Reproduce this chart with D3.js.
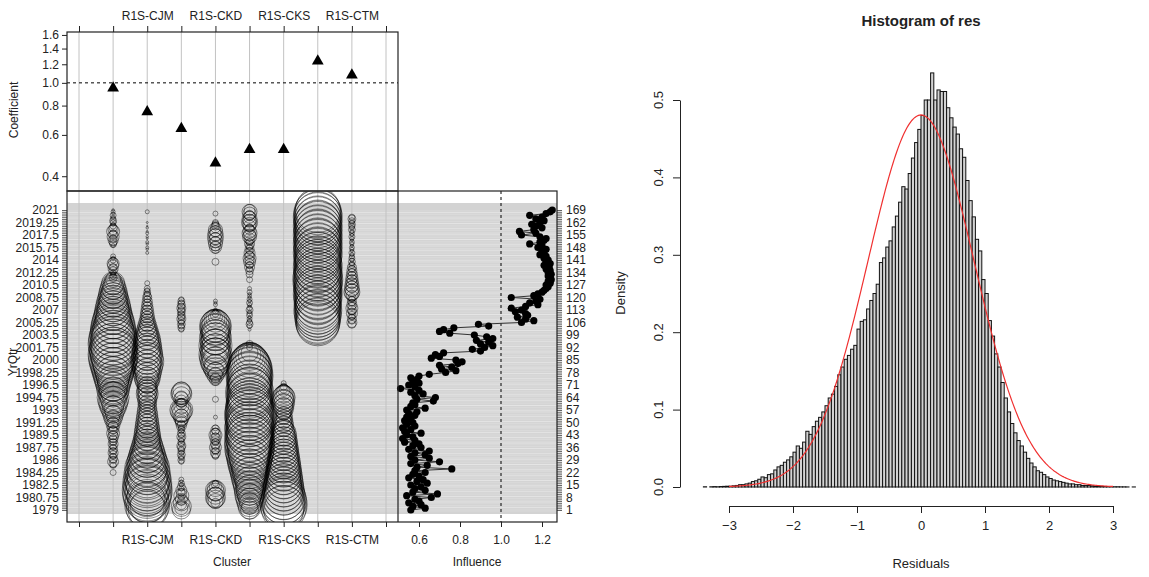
<!DOCTYPE html>
<html><head><meta charset="utf-8">
<script src="https://cdn.jsdelivr.net/npm/d3@7"></script>
<style>
body{margin:0;background:#fff;}
svg text{font-family:"Liberation Sans", Arial, Helvetica, sans-serif;}
</style></head><body>
<svg id="c" width="1149" height="577"></svg>
<script>
// ---------- DATA ----------
const clusterTickLabels = ["", "", "R1S-CJM", "", "R1S-CKD", "", "R1S-CKS", "", "R1S-CTM", ""];
const clusterIndex = [1, 2, 3, 4, 5, 6, 7, 8];
const coefficients = [0.96, 0.76, 0.645, 0.46, 0.525, 0.525, 1.25, 1.09];
const coefTicks = [0.4, 0.6, 0.8, 1.0, 1.2, 1.4, 1.6];
const rowTickValues = [169,162,155,148,141,134,127,120,113,106,99,92,85,78,71,64,57,50,43,36,29,22,15,8,1];
const yrQtrTickLabels = ["2021","2019.25","2017.5","2015.75","2014","2012.25","2010.5","2008.75","2007","2005.25","2003.5","2001.75","2000","1998.25","1996.5","1994.75","1993","1991.25","1989.5","1987.75","1986","1984.25","1982.5","1980.75","1979"];
const influenceTicks = [0.6, 0.8, 1.0, 1.2];
// influence by row (row 1 = 1979 ... row 169 = 2021)
const influence = [
0.56,0.63,0.57,0.61,0.55,0.60,0.58,0.66,0.54,0.69,
0.57,0.63,0.58,0.61,0.56,0.64,0.59,0.62,0.55,0.60,
0.57,0.63,0.58,0.76,0.59,0.64,0.56,0.70,0.58,0.65,
0.56,0.63,0.58,0.65,0.55,0.61,0.57,0.60,0.53,0.58,
0.52,0.57,0.54,0.61,0.53,0.56,0.52,0.58,0.54,0.57,
0.53,0.56,0.54,0.58,0.55,0.59,0.54,0.63,0.56,0.58,
0.57,0.67,0.59,0.68,0.58,0.62,0.56,0.60,0.51,0.58,
0.55,0.60,0.57,0.59,0.56,0.60,0.65,0.73,0.78,0.71,
0.76,0.70,0.79,0.81,0.78,0.66,0.70,0.68,0.72,0.90,
0.86,0.92,0.96,0.90,0.94,0.88,0.96,0.93,0.87,0.75,
0.70,0.72,0.77,0.94,0.89,1.10,1.16,1.12,1.08,1.13,
1.12,1.07,1.10,1.05,1.12,1.18,1.14,1.17,1.19,1.05,
1.16,1.18,1.20,1.21,1.22,1.23,1.22,1.24,1.23,1.245,
1.24,1.23,1.245,1.23,1.24,1.22,1.235,1.21,1.24,1.22,
1.23,1.21,1.22,1.19,1.21,1.20,1.22,1.18,1.20,1.14,
1.19,1.21,1.22,1.19,1.10,1.17,1.09,1.16,1.20,1.17,
1.15,1.19,1.21,1.17,1.20,1.14,1.22,1.24,1.25];
// bubble sizes per cluster by row (row 1 ... row 169)
const sizeC1 = [
0,0,0,0,0,0,0,0,0,0, 0,0,0,0,0,0,0,0,0,0,
0,1.2,0,0,0,1.2,1.6,2.2,1.4,1.8, 1.2,1.6,2.0,1.4,1.8,1.2,1.6,2.0,1.4,1.8,
1.6,2.2,1.8,2.6,2.0,1.6,2.4,2.0,2.8,2.2, 3.0,3.6,2.6,4.0,3.2,4.4,3.6,5.0,4.2,5.6,
4.6,6.0,5.2,6.4,5.6,4.8,6.0,5.4,6.6,5.8, 6.4,7.0,6.2,7.4,6.6,7.8,7.0,8.2,7.4,8.6,
7.8,9.0,8.2,9.4,8.6,9.8,9.0,10.0,9.2,9.6, 8.8,9.6,9.0,10.0,9.2,9.8,8.8,9.4,8.6,9.2,
8.4,9.0,8.0,8.8,7.6,8.4,7.2,8.0,7.0,7.6, 6.8,7.4,6.4,7.0,6.2,6.8,5.8,6.4,5.6,6.0,
5.2,5.8,4.8,5.4,4.4,5.0,4.0,4.6,3.6,3.0, 1.6,1.2,0.9,1.1,1.6,2.0,1.4,2.2,2.4,1.8,
1.2,0.8,1.0,0,0,0,0,0,0.8,1.4, 1.6,2.0,1.4,2.4,1.8,1.4,2.6,2.0,1.6,1.2,
0.8,1.2,1.4,1.0,0.8,1.2,0.6,0.8,0.5];
const sizeC2 = [
7.6,8.4,6.8,9.0,7.8,8.6,7.0,9.4,8.0,9.8, 8.6,10.0,9.0,9.6,8.4,9.8,8.8,9.2,8.0,9.4,
8.2,8.8,7.6,9.0,8.0,8.4,7.4,8.0,7.0,7.6, 6.6,7.2,6.2,6.8,5.8,6.4,5.4,6.0,5.2,5.6,
5.0,5.4,4.6,5.2,4.4,5.0,4.2,4.8,4.0,4.6, 3.8,4.4,3.6,4.2,3.4,4.0,3.2,3.8,3.0,3.6,
3.2,3.8,3.4,4.0,3.6,4.4,3.8,4.2,3.6,4.0, 3.4,4.0,4.6,5.0,4.4,5.4,4.8,5.6,5.0,6.0,
5.4,6.2,5.6,6.6,5.8,6.4,5.6,6.2,5.2,6.0, 5.4,5.8,5.0,5.6,4.8,5.4,4.6,5.0,4.2,4.6,
3.8,4.2,3.4,3.8,3.0,3.4,2.6,3.0,2.4,2.8, 2.2,2.6,2.0,2.4,1.8,2.2,1.6,2.0,1.4,1.8,
1.6,1.2,1.4,1.0,1.2,0,0,1.0,0,0, 0,0,0,0,0,0,0,0,0,0,
0,0,0,0,0.6,0,0.5,0.6,0,0.5, 0.6,0,0.4,0.5,0,0.6,0.4,0,0.5,0.3,
0,0.4,0,0,0,0,0,0.8,0];
const sizeC3 = [
3.6,2.6,4.0,2.0,3.2,1.6,2.4,1.2,3.0,2.0, 1.4,2.2,1.0,1.6,0.8,1.2,0.6,1.0,0,0,
0,0,0,0,0,0,0,1.0,1.4,1.0, 1.2,1.6,1.0,1.4,1.2,1.6,1.8,1.2,1.4,1.0,
1.4,1.8,1.2,1.6,1.0,1.4,1.2,2.0,1.6,2.4, 2.4,2.8,3.2,2.6,3.6,4.2,4.6,3.8,3.0,2.2,
1.8,2.4,3.0,2.6,3.6,4.2,4.0,3.4,0,0, 0,0,0,0,0,0,0,0,0,0,
0,0,0,0,0,0,0,0,0,0, 0,0,0,0,0,0,0,0,0,0,
0,1.0,1.4,1.2,1.6,1.2,1.4,1.8,1.4,1.6, 1.2,1.6,1.4,1.8,1.4,1.6,1.2,1.4,1.0,0,
0,0,0,0,0,0,0,0,0,0, 0,0,0,0,0,0,0,0,0,0,
0,0,0,0,0,0,0,0,0,0, 0,0,0,0,0,0,0,0,0,0,
0,0,0,0,0,0,0,0,0];
const sizeC4 = [
0,0,0,0,1.8,3.0,3.6,4.0,3.4,2.8, 3.6,4.0,3.2,2.4,1.6,1.2,0,0,0,0,
0,0,0,0,0,0,0,0,0,0, 1.2,1.6,2.0,1.4,1.8,2.4,1.6,2.0,1.4,1.8,
2.2,1.6,2.6,2.0,1.4,1.8,1.2,0,0,0, 0,0,0.8,0,0,0,0,0,0,0,
0,0,1.2,0,0,0,0,0,0,0, 0,0,1.6,2.4,2.0,3.2,2.8,4.0,3.4,4.6,
5.0,4.4,5.6,6.0,5.2,6.4,5.8,6.6,6.0,5.4, 6.2,5.6,6.6,6.0,5.2,5.8,6.4,5.6,6.2,5.4,
5.6,6.2,5.8,6.4,6.0,5.4,4.6,3.8,2.8,2.0, 1.4,1.0,0.8,0,0,0.8,0.6,0.8,0,0,
0,0,0,0,0,0,0,0,0,0, 0,0,0,0,0,0,0,0,0,1.4,
0,0,0,0,0,0,1.6,2.4,2.0,2.8, 2.2,3.0,2.4,3.2,2.6,3.0,2.2,2.8,2.0,1.6,
1.4,1.2,0,0,0,0,1.0,0,0];
const sizeC5 = [
3.6,4.4,3.2,4.8,4.0,5.2,4.4,5.6,4.8,6.0, 5.2,6.0,5.4,6.4,5.6,6.6,5.8,7.0,6.2,7.4,
6.6,7.6,7.0,8.0,7.2,8.4,7.6,8.8,8.0,9.0, 8.4,9.4,8.6,9.6,8.8,10.0,9.0,9.8,9.2,10.0,
9.4,9.8,9.0,9.6,9.2,10.0,9.4,9.8,9.0,9.6, 9.2,9.8,9.4,10.0,9.6,9.8,9.2,9.6,9.0,9.4,
8.8,9.2,8.6,9.4,9.0,8.8,9.6,9.2,8.6,9.0, 8.4,9.0,8.6,9.2,8.8,9.4,9.0,8.6,9.2,8.8,
8.8,8.4,8.0,7.6,7.0,6.4,5.6,4.6,3.4,0, 0,1.2,0,1.4,0,0,0,0,0,0,
0,0.6,0,1.0,1.4,1.2,0.8,1.0,0.6,1.2, 1.0,0.8,1.4,1.0,0.6,0.8,1.2,0.7,1.0,0.6,
0.8,0.6,1.0,0,0.8,0,0,0,0,1.2, 0,0,1.4,0,1.6,1.2,2.0,1.4,1.8,2.4,
1.8,2.6,2.0,1.6,2.2,1.4,1.8,1.2,1.6,2.0, 1.4,1.8,2.2,2.8,2.4,3.0,2.6,2.0,1.6,2.4,
2.8,3.2,2.6,3.0,2.4,2.0,2.6,3.0,2.2];
const sizeC6 = [
8.0,9.0,8.4,9.4,8.6,9.2,8.2,8.8,7.8,8.4, 7.6,8.2,7.4,8.0,7.2,7.8,7.0,7.6,6.8,7.4,
6.8,7.2,6.6,7.0,6.4,6.8,6.2,6.6,6.0,6.4, 5.8,6.2,5.6,6.0,5.4,5.8,5.2,5.6,5.0,5.4,
4.8,5.2,4.6,5.0,4.4,4.2,3.6,4.0,3.4,3.8, 3.2,3.6,3.0,3.4,2.8,3.2,3.6,4.0,3.6,4.2,
3.8,4.4,4.0,4.6,4.2,3.6,3.0,2.4,1.8,1.4, 0,1.0,0,0,0,0,0,0,0,0,
0,0,0,0,0,0,0,0,0,0, 0,0,0,0,0,0,0,0,0,0,
0,0,0,0,0,0,0,0,0,0, 0,0,0,0,0,0,0,0,0,0,
0,0,0,0,0,0,0,0,0,0, 0,0,0,0,0,0,0,0,0,0,
0,0,0,0,0,0,0,0,0,0, 0,0,0,0,0,0,0,0,0,0,
0,0,0,0,0,0,0,0,0];
const sizeC7 = [
0,0,0,0,0,0,0,0,0,0, 0,0,0,0,0,0,0,0,0,0,
0,0,0,0,0,0,0,0,0,0, 0,0,0,0,0,0,0,0,0,0,
0,0,0,0,0,0,0,0,0,0, 0,0,0,0,0,0,0,0,0,0,
0,0,0,0,0,0,0,0,0,0, 0,0,0,0,0,0,0,0,0,0,
0,0,0,0,0,0,0,0,0,0, 0,0,0,0,0,0,0,0,0,0,
0,0,0,0,8.6,8.8,9.0,8.6,9.2,8.8, 9.4,9.0,9.6,9.2,9.0,9.4,8.8,9.2,9.6,9.0,
9.4,9.8,9.2,9.6,9.0,9.4,9.8,9.2,9.6,10.0, 9.4,9.8,9.2,9.6,9.0,9.4,9.8,9.2,9.6,9.0,
9.4,9.0,9.6,9.2,9.8,9.4,9.0,9.6,9.2,9.8, 9.4,9.0,9.6,9.2,9.8,9.4,9.0,9.6,9.2,9.8,
9.4,9.0,9.6,9.2,9.8,9.4,9.6,9.2,9.0];
const sizeC8 = [
0,0,0,0,0,0,0,0,0,0, 0,0,0,0,0,0,0,0,0,0,
0,0,0,0,0,0,0,0,0,0, 0,0,0,0,0,0,0,0,0,0,
0,0,0,0,0,0,0,0,0,0, 0,0,0,0,0,0,0,0,0,0,
0,0,0,0,0,0,0,0,0,0, 0,0,0,0,0,0,0,0,0,0,
0,0,0,0,0,0,0,0,0,0, 0,0,0,0,0,0,0,0,0,0,
0,0,0,0,1.6,2.0,1.4,1.8,1.2,1.6, 2.2,1.4,1.8,2.4,1.6,2.0,1.4,1.8,1.2,1.6,
2.2,2.8,3.2,2.6,3.0,2.4,2.8,2.2,2.6,2.0, 2.4,1.8,2.2,1.6,2.0,1.4,1.8,1.2,1.0,1.4,
0.8,1.2,1.0,0.8,1.2,0.6,0.8,1.0,0.6,0.8, 1.0,0.6,0.8,1.2,0.7,1.0,0.8,1.4,1.0,1.2,
1.4,1.0,1.2,1.6,1.2,0,0,0,0];
const clusterSizes = [sizeC1, sizeC2, sizeC3, sizeC4, sizeC5, sizeC6, sizeC7, sizeC8];

// histogram of residuals (density, bins of 0.05 starting at -3.5)
const histStart = -3.5, histBinWidth = 0.05;
const histDensity = [
0,0,0.0003,0,0.0003,0.0005,0.0003,0.0006,0.0008,0.001,
0.001,0.0015,0.002,0.003,0.003,0.004,0.005,0.007,0.008,0.010,
0.013,0.012,0.016,0.017,0.022,0.026,0.028,0.032,0.035,0.039,
0.045,0.053,0.050,0.058,0.072,0.068,0.078,0.085,0.090,0.097,
0.105,0.115,0.120,0.130,0.145,0.155,0.165,0.170,0.178,0.183,
0.204,0.214,0.216,0.230,0.241,0.250,0.262,0.290,0.296,0.310,
0.318,0.336,0.350,0.368,0.388,0.385,0.405,0.425,0.445,0.462,
0.480,0.500,0.500,0.535,0.500,0.513,0.511,0.511,0.490,0.477,
0.465,0.456,0.437,0.426,0.396,0.370,0.349,0.320,0.305,0.268,
0.250,0.215,0.195,0.172,0.155,0.135,0.115,0.097,0.082,0.070,
0.060,0.053,0.045,0.037,0.031,0.026,0.021,0.019,0.016,0.013,
0.011,0.009,0.008,0.007,0.006,0.005,0.004,0.004,0.003,0.003,
0.002,0.002,0.002,0.0015,0.001,0.001,0.0008,0.0006,0.0005,0.0004,
0.0003,0.0003,0.0002,0.0002,0.0001,0,0.0001,0,0,0,0,0];
const resMean = 0, resSd = 0.83;
const histXTicks = [-3, -2, -1, 0, 1, 2, 3];
const histYTicks = [0, 0.1, 0.2, 0.3, 0.4, 0.5];

// ---------- DRAW ----------
const svg = d3.select("#c");
const L = 67, R1 = 398, R2 = 557, T = 32, M = 191, B = 522;
const xC = d3.scaleLinear().domain([0, 9]).range([79, 386]);
const yCoef = d3.scaleLog().domain([0.346, 1.647]).range([M, T]);
const yRow = d3.scaleLinear().domain([1, 169]).range([510, 210]);
const xInf = d3.scaleLinear().domain([0.6, 1.0]).range([419, 501]);
const rB = d3.scaleLinear().domain([0, 10]).range([0, 25]);
const rows = d3.range(1, 170);

// gray row background
svg.append("rect").attr("x", L).attr("y", 203).attr("width", R2 - L).attr("height", 311).attr("fill", "#d3d3d3");
const gRowLines = svg.append("g");
rows.forEach(i => {
  gRowLines.append("line").attr("x1", L).attr("x2", R2)
    .attr("y1", yRow(i) + 0.9).attr("y2", yRow(i) + 0.9)
    .attr("stroke", "#fff").attr("stroke-opacity", (i % 3 === 0) ? 0.7 : 0.3).attr("stroke-width", 0.6);
});

// vertical reference lines
d3.range(10).forEach(k => {
  svg.append("line").attr("x1", xC(k)).attr("x2", xC(k)).attr("y1", T).attr("y2", B)
    .attr("stroke", "#c2c2c2").attr("stroke-width", 1);
});

// bubbles
svg.append("clipPath").attr("id", "clipB").append("rect").attr("x", L).attr("y", M).attr("width", R1 - L).attr("height", B - M);
const gB = svg.append("g").attr("clip-path", "url(#clipB)");
clusterSizes.forEach((arr, ci) => {
  gB.selectAll(null).data(arr.map((v, j) => ({ v, row: rows[j] })).filter(d => d.v > 0))
    .enter().append("circle")
    .attr("cx", xC(clusterIndex[ci])).attr("cy", d => yRow(d.row)).attr("r", d => rB(d.v))
    .attr("fill", "none").attr("stroke", "#000").attr("stroke-opacity", 0.5).attr("stroke-width", 0.9);
});

// coefficient panel
svg.append("line").attr("x1", L).attr("x2", R1).attr("y1", yCoef(1)).attr("y2", yCoef(1))
  .attr("stroke", "#000").attr("stroke-dasharray", "3,3").attr("stroke-width", 1);
svg.selectAll(".tri").data(coefficients).enter().append("path")
  .attr("transform", (d, i) => `translate(${xC(clusterIndex[i])},${yCoef(d) + 1})`)
  .attr("d", d3.symbol(d3.symbolTriangle).size(60)).attr("fill", "#000");

// influence panel
svg.append("line").attr("x1", xInf(1)).attr("x2", xInf(1)).attr("y1", M).attr("y2", B)
  .attr("stroke", "#000").attr("stroke-dasharray", "3,3").attr("stroke-width", 1);
const infPts = influence.map((v, j) => ({ v, row: rows[j] }));
svg.append("path").datum(infPts)
  .attr("d", d3.line().x(d => xInf(d.v)).y(d => yRow(d.row)))
  .attr("fill", "none").attr("stroke", "#333").attr("stroke-width", 1);
svg.selectAll(".ip").data(infPts).enter().append("circle")
  .attr("cx", d => xInf(d.v)).attr("cy", d => yRow(d.row)).attr("r", 3.6).attr("fill", "#000");

// frames
const frame = (x, y, w, h) => svg.append("rect").attr("x", x).attr("y", y).attr("width", w).attr("height", h)
  .attr("fill", "none").attr("stroke", "#222").attr("stroke-width", 1.2);
frame(L, T, R1 - L, M - T);
frame(L, M, R2 - L, B - M);
svg.append("line").attr("x1", R1).attr("x2", R1).attr("y1", M).attr("y2", B).attr("stroke", "#222").attr("stroke-width", 1.2);

function styleAxis(g, size) {
  g.select(".domain").remove();
  g.selectAll("line").attr("stroke", "#222");
  g.selectAll("text").attr("font-size", size).attr("fill", "#222").style("font-family", '"Liberation Sans", Arial, sans-serif');
}
// axes for left chart
svg.append("g").attr("transform", `translate(0,${T})`)
  .call(d3.axisTop(xC).tickValues(d3.range(10)).tickFormat(k => clusterTickLabels[k]).tickSize(6).tickPadding(6))
  .call(g => styleAxis(g, 12));
svg.append("g").attr("transform", `translate(0,${B})`)
  .call(d3.axisBottom(xC).tickValues(d3.range(10)).tickFormat(k => clusterTickLabels[k]).tickSize(5).tickPadding(8))
  .call(g => styleAxis(g, 12));
svg.append("g").attr("transform", `translate(${L},0)`)
  .call(d3.axisLeft(yCoef).tickValues(coefTicks).tickFormat(d3.format(".1f")).tickSize(5).tickPadding(3))
  .call(g => styleAxis(g, 12));
svg.append("g").attr("transform", `translate(${L},0)`)
  .call(d3.axisLeft(yRow).tickValues(rows).tickFormat(i => { const k = rowTickValues.indexOf(i); return k >= 0 ? yrQtrTickLabels[k] : ""; }).tickSize(5).tickPadding(3))
  .call(g => { styleAxis(g, 12); g.selectAll("line").attr("stroke-width", 0.7); });
svg.append("g").attr("transform", `translate(${R2},0)`)
  .call(d3.axisRight(yRow).tickValues(rows).tickFormat(i => rowTickValues.includes(i) ? String(i) : "").tickSize(5).tickPadding(4))
  .call(g => { styleAxis(g, 12); g.selectAll("line").attr("stroke-width", 0.7); });
svg.append("g").attr("transform", `translate(0,${B})`)
  .call(d3.axisBottom(xInf).tickValues(influenceTicks).tickFormat(d3.format(".1f")).tickSize(5).tickPadding(8))
  .call(g => styleAxis(g, 12));

const label = (txt, x, y, size, rot, weight) => {
  const t = svg.append("text").attr("x", x).attr("y", y).attr("text-anchor", "middle")
    .attr("dominant-baseline", "middle").attr("font-size", size).attr("fill", "#222").text(txt);
  if (rot) t.attr("transform", `rotate(${rot},${x},${y})`);
  if (weight) t.attr("font-weight", weight);
  return t;
};
label("Coefficient", 15, 110, 12, -90);
label("YrQtr", 14, 362, 12, -90);
label("Cluster", 232, 563, 12);
label("Influence", 477, 563, 12);

// ---------- HISTOGRAM ----------
const xH = d3.scaleLinear().domain([-3, 3]).range([729, 1113]);
const yH = d3.scaleLinear().domain([0, 0.5]).range([487, 100]);
svg.append("clipPath").attr("id", "clipH").append("rect").attr("x", 600).attr("y", 0).attr("width", 549).attr("height", 577);
const gH = svg.append("g").attr("clip-path", "url(#clipH)");
gH.selectAll("rect.bar").data(histDensity.map((d, k) => ({ d, x0: histStart + k * histBinWidth })))
  .enter().append("rect").attr("class", "bar")
  .attr("x", b => xH(b.x0)).attr("width", b => xH(b.x0 + histBinWidth) - xH(b.x0))
  .attr("y", b => yH(b.d)).attr("height", b => yH(0) - yH(b.d))
  .attr("fill", "#d3d3d3").attr("stroke", "#111").attr("stroke-width", 1);
const curvePts = d3.range(-3, 3.0001, 0.02).map(x => [x, Math.exp(-0.5 * ((x - resMean) / resSd) ** 2) / (resSd * Math.sqrt(2 * Math.PI))]);
gH.append("path").datum(curvePts)
  .attr("d", d3.line().x(p => xH(p[0])).y(p => yH(p[1])))
  .attr("fill", "none").attr("stroke", "#f03030").attr("stroke-width", 1.2);

svg.append("g").attr("transform", "translate(680,0)")
  .call(d3.axisLeft(yH).tickValues(histYTicks).tickFormat("").tickSize(7).tickSizeOuter(0))
  .call(g => { g.selectAll("line,path").attr("stroke", "#222"); });
histYTicks.forEach(t => label(d3.format(".1f")(t), 660, yH(t), 13, -90));
svg.append("g").attr("transform", "translate(0,506)")
  .call(d3.axisBottom(xH).tickValues(histXTicks).tickFormat(d3.format("d")).tickSize(7).tickSizeOuter(0).tickPadding(8))
  .call(g => { g.selectAll("line,path").attr("stroke", "#222"); g.selectAll("text").attr("font-size", 13).attr("fill", "#222"); });
label("Histogram of res", 921, 22, 15, 0, "bold");
label("Density", 622, 293, 13, -90);
label("Residuals", 921, 565, 13);
</script>
</body></html>
